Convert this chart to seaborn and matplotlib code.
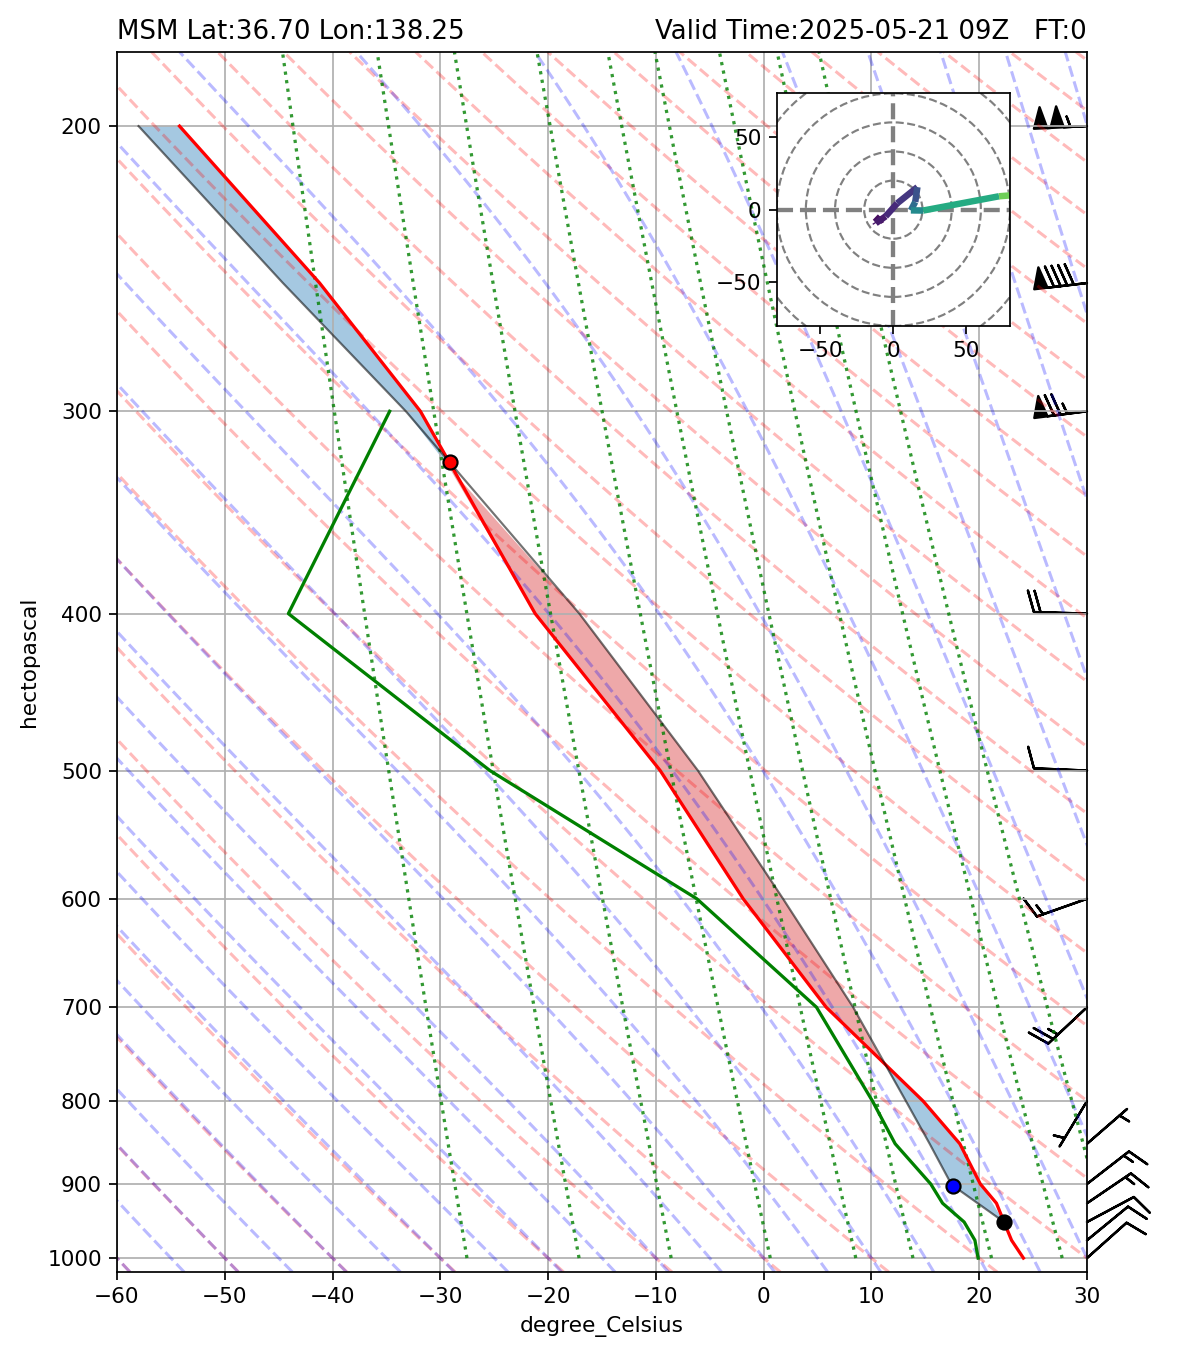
import numpy as np
import matplotlib
matplotlib.use("Agg")
import matplotlib.pyplot as plt
import seaborn as sns
from matplotlib.collections import LineCollection
from matplotlib.patches import Circle
from matplotlib.ticker import MultipleLocator, ScalarFormatter, NullLocator

# MSM sounding on pressure levels (hPa), temperatures in degC, winds in knots
PRESSURE = [1000, 975, 950, 925, 900, 850, 800, 700, 600, 500, 400, 300, 250, 200]
TEMPERATURE = [24.1, 23.0, 22.3, 21.6, 20.1, 18.2, 14.8, 5.8, -1.9, -9.6, -21.2, -31.85, -41.2, -54.2]
DEWPOINT = [19.9, 19.6, 18.6, 16.6, 15.5, 12.2, 10.1, 4.9, -6.2, -25.4, -44.1, -34.7]
U_WIND = [-7.5, -9.5, -9.0, -12.5, -12.0, -5.3, 2.6, 16.5, 15.0, 12.0, 20.5, 72.5, 89.3, 104.8]
V_WIND = [-6.7, -7.8, -4.8, -8.5, -9.3, -4.6, 4.3, 15.5, 5.3, -0.5, -0.6, 9.2, 10.5, 5.2]
HEIGHT = [110, 330, 560, 790, 1030, 1510, 2020, 3120, 4350, 5780, 7420, 9400, 10620, 12040]

# most unstable parcel lifted from 950 hPa
PARCEL_PRESSURE = [950, 902.5, 900, 850, 800, 700, 600, 500, 400, 300, 250, 200]
PARCEL_TEMPERATURE = [22.3, 17.6, 17.4, 15.4, 13.2, 8.3, 1.8, -6.1, -17.1, -33.2, -44.6, -58.0]
START_POINT = (22.3, 950)
LCL_POINT = (17.6, 902.5)
EL_POINT = (-29.1, 322.6)

LEFT_TITLE = "MSM Lat:36.70 Lon:138.25"
RIGHT_TITLE = "Valid Time:2025-05-21 09Z   FT:0"

# reference lines of the diagram (starting temperatures at 1000 hPa)
DRY_T0 = np.arange(-60, 231, 10)
MOIST_T0 = np.arange(-60, 81, 5)
MIXING_RATIOS = [0.0004, 0.001, 0.002, 0.004, 0.007, 0.01, 0.016, 0.024, 0.032]

RD = 287.04749
CP = 1004.666
LV = 2.50084e6
EPS = 0.6219569
KAPPA = RD / CP

DPI = 156


def sat_vapor_pressure(t_c):
    return 6.112 * np.exp(17.67 * t_c / (t_c + 243.5))


def moist_slope(lnp, t_k):
    p = np.exp(lnp)
    e = sat_vapor_pressure(t_k - 273.15)
    rs = EPS * e / (p - e)
    return (RD * t_k + LV * rs) / (CP + LV * LV * rs * EPS / (RD * t_k * t_k))


def integrate_moist(t_k, grid):
    out = [t_k.copy()]
    cur = t_k.copy()
    for a, b in zip(grid[:-1], grid[1:]):
        h = b - a
        k1 = moist_slope(a, cur)
        k2 = moist_slope(a + h / 2, cur + h / 2 * k1)
        k3 = moist_slope(a + h / 2, cur + h / 2 * k2)
        k4 = moist_slope(b, cur + h * k3)
        cur = cur + h / 6 * (k1 + 2 * k2 + 2 * k3 + k4)
        out.append(cur.copy())
    return np.array(out)


def moist_adiabats(t0_c):
    t_k = np.asarray(t0_c, float) + 273.15
    up = np.linspace(np.log(1000), np.log(180), 250)
    down = np.linspace(np.log(1000), np.log(1020), 10)
    t_up = integrate_moist(t_k, up)
    t_down = integrate_moist(t_k, down)
    p = np.exp(np.concatenate([down[::-1], up[1:]]))
    temps = np.vstack([t_down[::-1], t_up[1:]]) - 273.15
    return p, temps


def make_plot():
    fig = plt.figure(figsize=(1200 / DPI, 1354 / DPI), dpi=DPI)
    ax = fig.add_axes([117 / 1200, 1 - 1272 / 1354, 970 / 1200, 1220 / 1354])
    ax.set_yscale("log")
    ax.set_xlim(-60, 30)
    ax.set_ylim(1020, 180)

    # dry adiabats
    p_dry = np.linspace(1020, 180, 100)
    dry = [np.column_stack([(t0 + 273.15) * (p_dry / 1000) ** KAPPA - 273.15, p_dry]) for t0 in DRY_T0]
    ax.add_collection(LineCollection(dry, colors="r", linestyles="dashed", alpha=0.27, linewidths=1.4))

    # moist adiabats
    p_moist, t_moist = moist_adiabats(MOIST_T0)
    moist = [np.column_stack([t_moist[:, i], p_moist]) for i in range(len(MOIST_T0))]
    ax.add_collection(LineCollection(moist, colors="b", linestyles="dashed", alpha=0.27, linewidths=1.4))

    # mixing ratio lines
    p_mix = np.linspace(1000, 180, 100)
    mixing = []
    for w in MIXING_RATIOS:
        x = np.log(p_mix * w / (EPS + w) / 6.112)
        mixing.append(np.column_stack([243.5 * x / (17.67 - x), p_mix]))
    ax.add_collection(LineCollection(mixing, colors="g", linestyles="dotted", alpha=0.8, linewidths=1.5))

    # CAPE / CIN shading between parcel and environment
    env_at_parcel = np.interp(-np.log(PARCEL_PRESSURE), -np.log(PRESSURE), TEMPERATURE)
    parcel = np.array(PARCEL_TEMPERATURE)
    ax.fill_betweenx(PARCEL_PRESSURE, parcel, env_at_parcel, where=parcel >= env_at_parcel,
                     interpolate=True, facecolor="tab:red", alpha=0.4, linewidth=0)
    ax.fill_betweenx(PARCEL_PRESSURE, parcel, env_at_parcel, where=parcel <= env_at_parcel,
                     interpolate=True, facecolor="tab:blue", alpha=0.4, linewidth=0)

    # temperature and dewpoint profiles
    sns.lineplot(x=TEMPERATURE, y=PRESSURE, sort=False, orient="y", estimator=None,
                 color="r", linewidth=1.5, ax=ax)
    sns.lineplot(x=DEWPOINT, y=PRESSURE[:len(DEWPOINT)], sort=False, orient="y", estimator=None,
                 color="g", linewidth=1.5, ax=ax)
    ax.plot(PARCEL_TEMPERATURE, PARCEL_PRESSURE, color="k", alpha=0.55, linewidth=1)

    ax.plot(*START_POINT, "o", color="k", markersize=6.5, zorder=5)
    ax.plot(*LCL_POINT, "o", markerfacecolor="b", markeredgecolor="k", markersize=6.5, zorder=5)
    ax.plot(*EL_POINT, "o", markerfacecolor="r", markeredgecolor="k", markersize=6.5, zorder=5)

    # wind barbs along the right edge
    ax.barbs(np.ones(len(PRESSURE)), PRESSURE, U_WIND, V_WIND,
             transform=ax.get_yaxis_transform(), clip_on=False, length=7, linewidth=1.1)

    ax.yaxis.set_major_locator(MultipleLocator(100))
    ax.yaxis.set_major_formatter(ScalarFormatter())
    ax.yaxis.set_minor_locator(NullLocator())
    ax.set_xticks(np.arange(-60, 31, 10))
    ax.set_xlim(-60, 30)
    ax.set_ylim(1020, 180)
    ax.grid(True)
    ax.set_xlabel("degree_Celsius")
    ax.set_ylabel("hectopascal")
    ax.set_title(LEFT_TITLE, loc="left")
    ax.set_title(RIGHT_TITLE, loc="right")

    # hodograph inset
    ax_hod = fig.add_axes([776.7 / 1200, 1 - 326 / 1354, 233.3 / 1200, 232.7 / 1354])
    ax_hod.set_xlim(-80, 80)
    ax_hod.set_ylim(-80, 80)
    for r in range(20, 141, 20):
        ax_hod.add_patch(Circle((0, 0), r, fill=False, edgecolor="grey", linestyle="dashed"))
    ax_hod.axhline(0, color="grey", linestyle="dashed", linewidth=2)
    ax_hod.axvline(0, color="grey", linestyle="dashed", linewidth=2)
    pts = np.column_stack([U_WIND, V_WIND])
    segs = np.stack([pts[:-1], pts[1:]], axis=1)
    lc = LineCollection(segs, cmap="viridis", norm=plt.Normalize(min(HEIGHT), max(HEIGHT)), linewidths=3)
    lc.set_array(np.array(HEIGHT[:-1], float))
    ax_hod.add_collection(lc)
    ax_hod.set_xticks([-50, 0, 50])
    ax_hod.set_yticks([-50, 0, 50])

    fig.savefig("out.png", dpi=DPI)


if __name__ == "__main__":
    make_plot()
